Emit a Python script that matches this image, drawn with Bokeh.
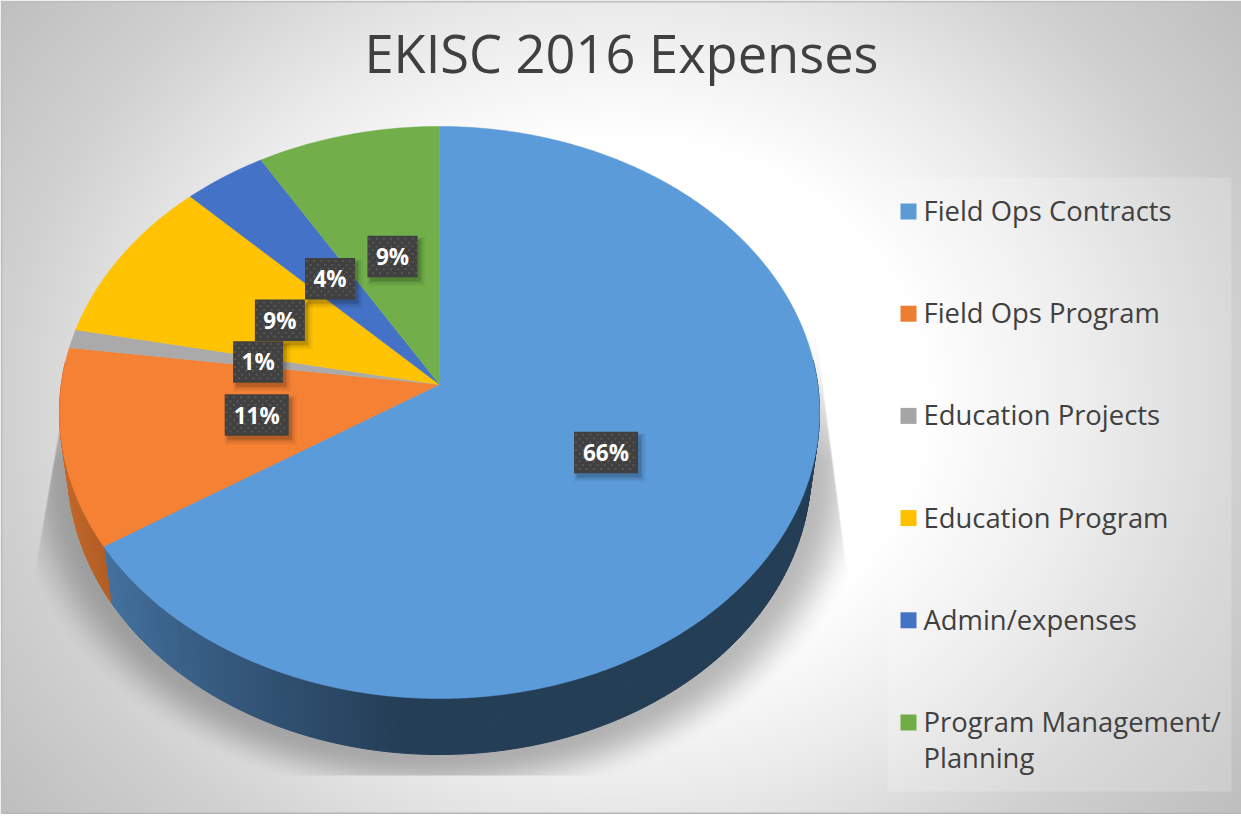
import numpy as np
from bokeh.core.properties import value
from bokeh.embed import file_html
from bokeh.plotting import figure
from bokeh.resources import INLINE

TITLE = "EKISC 2016 Expenses"
categories = ["Field Ops Contracts", "Field Ops Program", "Education Projects",
              "Education Program", "Admin/expenses", "Program Management/\nPlanning"]
shares = [65.9, 11.2, 1.05, 9.4, 3.9, 8.55]
labels = ["66%", "11%", "1%", "9%", "4%", "9%"]
top_colors = ["#5C9BD9", "#F48134", "#AAAAAA", "#FFC303", "#4472C6", "#72AF4A"]
legend_colors = ["#5B9BD5", "#ED7D31", "#A5A5A5", "#FFC000", "#4472C4", "#70AD47"]

W, H = 1241, 814
FONT = "Open Sans"
CX, CY, A, B, K = 439.0, 384.0, 378.2, 283.3, 0.0979
DEPTH, TAPER = 56.0, 0.978


def project(deg, r=1.0):
    t = np.radians(deg)
    u, v = r * np.sin(t), -r * np.cos(t)
    w = 1 - K * v
    return CX + A * u / w, CY + B * v / w


def background():
    yy, xx = np.mgrid[0:H, 0:W].astype(float)
    rho = np.hypot((xx - 620) / 560, (yy - 400) / 480)
    g = 255 + np.interp(rho, [0.55, 0.82, 1.1, 1.39, 1.6], [0, -20, -46, -64, -70])
    # soft shadow under the pie
    sr = np.hypot((xx - 439) / 372, (yy - 469) / 286)
    s = np.clip((sr - 1.0) / 0.17, 0, 1)
    alpha = 0.27 * (1 - s * s * (3 - 2 * s))
    left = np.interp(yy, [330, 580], [75, 32])
    right = np.interp(yy, [330, 577], [815, 847])
    mask = np.clip(xx - left, 0, 1) * np.clip(right - xx, 0, 1)
    mask *= np.clip(775 - yy, 0, 1) * np.clip((yy - 330) / 130, 0, 1)
    g = g * (1 - alpha * mask)
    g[:2, :] = 190
    g[-2:, :] = 182
    g[:, :2] = 190
    g = g.astype(np.uint8)
    img = np.empty((H, W), dtype=np.uint32)
    view = img.view(np.uint8).reshape(H, W, 4)
    view[..., 0] = view[..., 1] = view[..., 2] = g
    view[..., 3] = 255
    return img


def hex_scale(col, f):
    rgb = [int(col[i:i + 2], 16) for i in (1, 3, 5)]
    return "#%02x%02x%02x" % tuple(int(c * f) for c in rgb)


p = figure(width=W, height=H, x_range=(0, W), y_range=(H, 0),
           toolbar_location=None, output_backend="svg", min_border=0,
           outline_line_color=None, background_fill_color=None,
           border_fill_color=None)
p.axis.visible = False
p.grid.visible = False
p.styles = {"position": "absolute", "left": "0px", "top": "0px"}

p.image_rgba(image=[background()], x=0, y=0, dw=W, dh=H)

# slices
edges = np.concatenate([[0], np.cumsum(shares)]) * 360 / np.sum(shares)

wx, wy, wc = [], [], []
for i, col in enumerate(top_colors):
    a0, a1 = edges[i], edges[i + 1]
    steps = np.linspace(a0, a1, max(2, int((a1 - a0)) + 1))
    for s0, s1 in zip(steps[:-1], steps[1:]):
        if not 85 < (s0 + s1) / 2 < 275:
            continue
        x0, y0 = project(s0)
        x1, y1 = project(s1)
        xb0, xb1 = CX + (x0 - CX) * TAPER, CX + (x1 - CX) * TAPER
        wx.append([x0, x1, xb1, xb0])
        wy.append([y0, y1, y1 + DEPTH, y0 + DEPTH])
        f = np.interp((x0 + x1) / 2, [60, 110, 200, 300, 400], [0.8, 0.72, 0.6, 0.5, 0.4])
        wc.append(hex_scale(col, f))
p.patches(wx, wy, fill_color=wc, line_color=wc, line_width=1)

px, py = [], []
for i in range(len(shares)):
    ang = np.linspace(edges[i], edges[i + 1], max(3, int(edges[i + 1] - edges[i]) * 2))
    x, y = project(ang)
    px.append([CX] + list(x))
    py.append([CY] + list(y))
p.patches(px, py, fill_color=top_colors, line_color=top_colors, line_width=0.5)

# data labels
mids = (edges[:-1] + edges[1:]) / 2
lx, ly = project(mids, 0.49)
bw = [22 + 14 * len(t) for t in labels]
BH = 41.5
for off, grow, al in [(5, 8, 0.04), (4.5, 5, 0.06), (4, 2, 0.08), (4, 0, 0.10)]:
    p.rect(lx + off - 1, ly + off, width=[b + grow for b in bw], height=BH + grow,
           fill_color="black", fill_alpha=al, line_color=None)
p.rect(lx, ly, width=bw, height=BH, fill_color="#404040", line_color=None)

# the small staggered dots of the label boxes' texture
dx, dy = [], []
for cx, cy, b in zip(lx, ly, bw):
    rows = np.arange(cy - BH / 2 + 3, cy + BH / 2 - 1, 3.8)
    for r, ry in enumerate(rows):
        xs = np.arange(cx - b / 2 + (2 if r % 2 == 0 else 5.6), cx + b / 2 - 1, 7.2)
        dx.extend(xs)
        dy.extend([ry] * len(xs))
p.scatter(dx, dy, marker="square", size=2, fill_color="#585858", line_color=None)

p.text(lx, ly, text=labels, text_color="white", text_align="center",
       text_baseline="middle", text_font=value(FONT), text_font_style="bold",
       text_font_size=value("22.5px"))

# title
p.text([621], [52], text=[TITLE], text_color="#404040", text_align="center",
       text_baseline="middle", text_font=value(FONT), text_font_size=value("52.4px"))

# legend
p.rect([1059], [484], width=344, height=614, fill_color="white", fill_alpha=0.2,
       line_color=None)
ly0 = [211 + 102.2 * i for i in range(len(categories))]
p.rect([908] * len(categories), ly0, width=16, height=16,
       fill_color=legend_colors, line_color=None)
tx, ty, tt = [], [], []
for y, name in zip(ly0, categories):
    for j, part in enumerate(name.split("\n")):
        tx.append(923)
        ty.append(y + 35.5 * j - 1)
        tt.append(part)
p.text(tx, ty, text=tt, text_color="#404040", text_align="left",
       text_baseline="middle", text_font=value(FONT), text_font_size=value("27.4px"))

open("out.html", "w").write(file_html(p, INLINE))
